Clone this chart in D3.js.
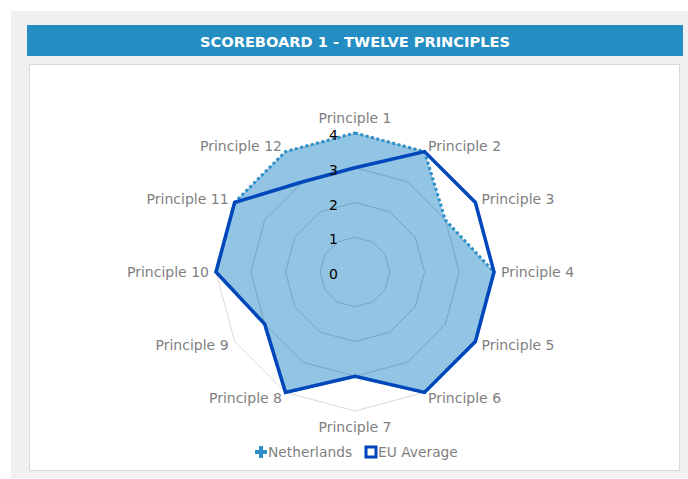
<!DOCTYPE html>
<html>
<head>
<meta charset="utf-8">
<script src="https://cdn.jsdelivr.net/npm/d3@7"></script>
<style>
  body { margin: 0; background: #ffffff; }
  svg { display: block; }
</style>
</head>
<body>
<div id="wrapper"></div>
<script>
// chart data
const principles = [
  'Principle 1', 'Principle 2', 'Principle 3', 'Principle 4',
  'Principle 5', 'Principle 6', 'Principle 7', 'Principle 8',
  'Principle 9', 'Principle 10', 'Principle 11', 'Principle 12'
]
const netherlands = [4, 4, 3, 4, 4, 4, 3, 4, 3, 4, 4, 4]
const euAverage = [3, 4, 4, 4, 4, 4, 3, 4, 3, 4, 4, 3]
const tickValues = [0, 1, 2, 3, 4]
const seriesNames = ['Netherlands', 'EU Average']

const dimensions = {
  width: 688,
  height: 479,
  cx: 355,
  cy: 272,
  radius: 139,
}

const svg = d3
  .select('#wrapper')
  .append('svg')
  .attr('width', dimensions.width)
  .attr('height', dimensions.height)

// frame: grey panel, title bar, white plot card
svg.append('rect')
  .attr('x', 11).attr('y', 11)
  .attr('width', 677).attr('height', 467)
  .attr('fill', '#f0f0f0')

svg.append('rect')
  .attr('x', 27).attr('y', 25)
  .attr('width', 656).attr('height', 31)
  .attr('fill', '#248dc2')

svg.append('text')
  .attr('x', 355).attr('y', 41)
  .attr('text-anchor', 'middle')
  .attr('dominant-baseline', 'central')
  .attr('font-family', '"DejaVu Sans", sans-serif')
  .attr('font-weight', 'bold')
  .attr('font-size', '14.6px')
  .attr('fill', '#ffffff')
  .text('SCOREBOARD 1 - TWELVE PRINCIPLES')

svg.append('rect')
  .attr('x', 29.5).attr('y', 64.5)
  .attr('width', 650).attr('height', 406)
  .attr('fill', '#ffffff')
  .attr('stroke', '#d9d9d9')

const bounds = svg
  .append('g')
  .attr('transform', `translate(${dimensions.cx}, ${dimensions.cy})`)

// scales
const angleScale = d3
  .scaleLinear()
  .domain([0, principles.length])
  .range([0, 2 * Math.PI])

const rScale = d3
  .scaleLinear()
  .domain([0, d3.max(tickValues)])
  .range([0, dimensions.radius])

const radarLine = d3
  .lineRadial()
  .angle((d, i) => angleScale(i))
  .radius((d) => rScale(d))
  .curve(d3.curveLinearClosed)

// grid rings
bounds
  .append('g')
  .selectAll('path')
  .data(tickValues.filter((t) => t > 0))
  .join('path')
  .attr('d', (t) => radarLine(principles.map(() => t)))
  .attr('fill', 'none')
  .attr('stroke', (t) => (t === 4 ? '#d9d9d9' : '#bdbdbd'))
  .attr('stroke-width', 1)

// Netherlands: filled area with dotted outline
bounds
  .append('path')
  .attr('d', radarLine(netherlands))
  .attr('fill', '#2e8fc9')
  .attr('fill-opacity', 0.52)
  .attr('stroke', 'none')

bounds
  .append('path')
  .attr('d', radarLine(netherlands))
  .attr('fill', 'none')
  .attr('stroke', '#2e8fc9')
  .attr('stroke-width', 3)
  .attr('stroke-dasharray', '3,2.5')

// EU average line
bounds
  .append('path')
  .attr('d', radarLine(euAverage))
  .attr('fill', 'none')
  .attr('stroke', '#0047bb')
  .attr('stroke-width', 3.5)
  .attr('stroke-linejoin', 'miter')

// value axis labels
bounds
  .append('g')
  .selectAll('text')
  .data(tickValues)
  .join('text')
  .attr('x', -17)
  .attr('y', (t) => -rScale(t) + 2)
  .attr('text-anchor', 'end')
  .attr('dominant-baseline', 'central')
  .attr('font-family', '"DejaVu Sans", sans-serif')
  .attr('font-size', '14px')
  .attr('fill', '#000000')
  .text((t) => t)

// category labels
const labelR = 146
bounds
  .append('g')
  .selectAll('text')
  .data(principles)
  .join('text')
  .attr('x', (d, i) => labelR * Math.sin(angleScale(i)))
  .attr('y', (d, i) => {
    const c = Math.cos(angleScale(i))
    const s = Math.sin(angleScale(i))
    const nudge = Math.abs(s) < 0.1 ? -c * 8.5 : 0
    return -labelR * c + nudge
  })
  .attr('text-anchor', (d, i) => {
    const s = Math.sin(angleScale(i))
    return s > 0.1 ? 'start' : s < -0.1 ? 'end' : 'middle'
  })
  .attr('dominant-baseline', 'central')
  .attr('font-family', '"DejaVu Sans", sans-serif')
  .attr('font-size', '14px')
  .attr('fill', '#7f7f7f')
  .text((d) => d)

// legend
const legend = svg.append('g').attr('transform', 'translate(0, 452)')

legend
  .append('path')
  .attr('d', d3.symbol(d3.symbolCross, 80)())
  .attr('transform', 'translate(261, 0)')
  .attr('fill', '#2e8fc9')

legend
  .append('rect')
  .attr('x', 366).attr('y', -5)
  .attr('width', 10).attr('height', 10)
  .attr('fill', '#ffffff')
  .attr('stroke', '#0047bb')
  .attr('stroke-width', 3)

legend
  .selectAll('text')
  .data(seriesNames)
  .join('text')
  .attr('x', (d, i) => (i === 0 ? 268 : 378))
  .attr('y', 0)
  .attr('dominant-baseline', 'central')
  .attr('font-family', '"DejaVu Sans", sans-serif')
  .attr('font-size', '13.8px')
  .attr('fill', '#7f7f7f')
  .text((d) => d)
</script>
</body>
</html>
